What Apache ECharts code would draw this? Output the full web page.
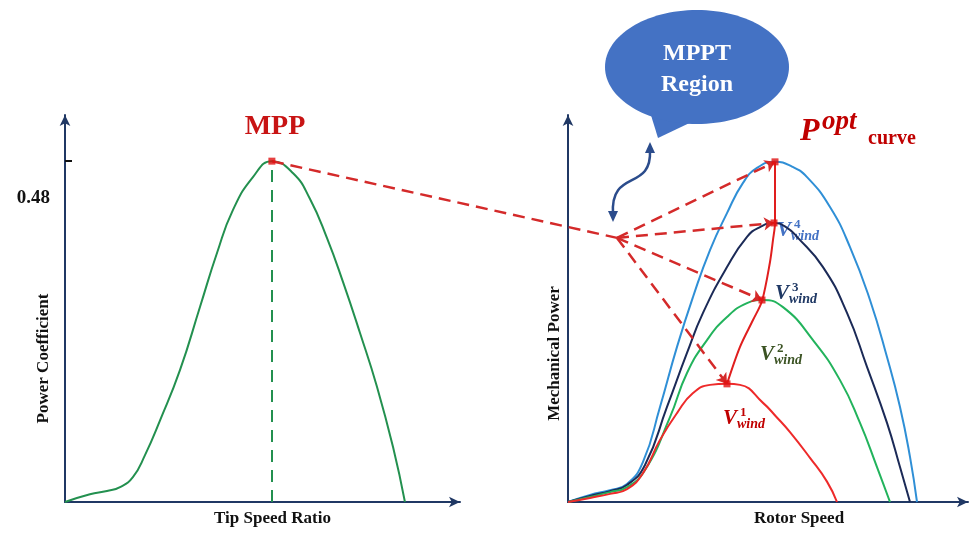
<!DOCTYPE html>
<html><head><meta charset="utf-8">
<script src="https://cdn.jsdelivr.net/npm/echarts@6/dist/echarts.min.js"></script>
<style>html,body{margin:0;padding:0;background:#fff}#c{width:971px;height:534px}</style>
</head><body><div id="c"></div>
<script>
// ---------- Left panel: Power coefficient vs tip speed ratio ----------
const tsr = [0,1.01,1.70,2.23,2.75,3.24,3.85,4.66,5.47,6.16,6.80,7.62,8.38,9.24,9.92,10.61,11.26,11.95,12.64,13.29,13.77];
const cp  = [0,0.011,0.0155,0.021,0.035,0.066,0.115,0.186,0.275,0.351,0.411,0.458,0.480,0.463,0.427,0.372,0.310,0.238,0.162,0.077,0];
const cpTicks = [0.48];

// ---------- Right panel: Mechanical power vs rotor speed ----------
const speedV4 = [0,11,21,29.5,37.5,46,54.5,62.5,71,79.5,87.5,94.5,103.5,112,119.5,131,141,151,159.5,166,171,174.5];
const powerV4 = [0,0.021,0.035,0.053,0.118,0.280,0.457,0.604,0.742,0.851,0.940,0.984,1.002,0.988,0.957,0.869,0.751,0.595,0.427,0.280,0.133,0];
const speedV3 = [0,11,21,29.5,38.5,49.5,59.5,67.5,79.5,89.5,96,103,109,114.5,127.5,139.5,149.5,159.5,166,171];
const powerV3 = [0,0.018,0.032,0.050,0.109,0.280,0.439,0.557,0.692,0.781,0.810,0.822,0.810,0.781,0.692,0.557,0.398,0.233,0.103,0];
const speedV2 = [0,11,21,29.5,38.5,51,59.5,69.5,79.5,89.5,97,107.5,122.5,136,146,154.5,161];
const powerV2 = [0,0.015,0.029,0.044,0.094,0.250,0.380,0.477,0.545,0.586,0.595,0.574,0.477,0.359,0.233,0.103,0];
const speedV1 = [0,11,21,29.5,37.5,46,54.5,62.5,71,79.5,86,97.5,104,111,121,129.5,134.5];
const powerV1 = [0,0.012,0.024,0.038,0.085,0.183,0.262,0.321,0.345,0.348,0.345,0.292,0.252,0.206,0.130,0.060,0];
// Optimal power curve through the peaks
const speedOpt = [79.5,86,92.5,97,101,102.5,103.5,103.5];
const powerOpt = [0.348,0.457,0.536,0.592,0.707,0.772,0.822,1.002];
// Point from which the MPPT arrows fan out
const fanOrigin = [24.5, 0.778];

const serif = 'Liberation Serif';
const axisCol = '#203864';
const redDash = '#D42A2A';

function pairs(xs, ys){ return xs.map((x,i)=>[x, ys[i]]); }
function peak(xs, ys){ let k=0; ys.forEach((y,i)=>{ if(y>ys[k]) k=i; }); return [xs[k], ys[k]]; }

const lamOpt = peak(tsr, cp);
const peaks = [peak(speedV4,powerV4), peak(speedV3,powerV3), peak(speedV2,powerV2), peak(speedV1,powerV1)];

const chart = echarts.init(document.getElementById('c'));

const axisLine = {show:true, symbol:['none','arrow'], symbolSize:[8,11], lineStyle:{color:axisCol, width:2}};
const nameStyle = {fontFamily:serif, fontWeight:'bold', fontSize:17, color:'#111'};

function curve(xs, ys, color){
  return {type:'line', xAxisIndex:1, yAxisIndex:1, data:pairs(xs,ys), smooth:0.5, showSymbol:false, lineStyle:{color, width:2}};
}

chart.setOption({
  backgroundColor:'#fff',
  animation:false,
  grid:[
    {left:65, top:115, width:395, height:387, outerBoundsMode:'none', containLabel:false},
    {left:568, top:115, width:400, height:387, outerBoundsMode:'none', containLabel:false}
  ],
  xAxis:[
    {type:'value', gridIndex:0, min:0, max:16, axisLine, axisTick:{show:false}, axisLabel:{show:false}, splitLine:{show:false},
     name:'Tip Speed Ratio', nameLocation:'middle', nameGap:8, nameMoveOverlap:false, nameTextStyle:Object.assign({verticalAlign:'top', padding:[0,0,0,20]}, nameStyle)},
    {type:'value', gridIndex:1, min:0, max:200, axisLine, axisTick:{show:false}, axisLabel:{show:false}, splitLine:{show:false},
     name:'Rotor Speed', nameLocation:'middle', nameGap:8, nameMoveOverlap:false, nameTextStyle:Object.assign({verticalAlign:'top', padding:[0,0,0,62]}, nameStyle)}
  ],
  yAxis:[
    {type:'value', gridIndex:0, min:0, max:0.545, axisLine,
     axisTick:{show:true, customValues:cpTicks, inside:true, length:7, lineStyle:{color:'#111', width:2}},
     axisLabel:{show:true, customValues:cpTicks, formatter:v=>v.toFixed(2), fontFamily:serif, fontWeight:'bold', fontSize:19, color:'#111', verticalAlign:'top', padding:[27,0,0,0], margin:15},
     splitLine:{show:false},
     name:'Power Coefficient', nameLocation:'middle', nameRotate:90, nameGap:13, nameMoveOverlap:false, nameTextStyle:Object.assign({padding:[0,100,0,0]}, nameStyle)},
    {type:'value', gridIndex:1, min:0, max:1.14, axisLine, axisTick:{show:false}, axisLabel:{show:false}, splitLine:{show:false},
     name:'Mechanical Power', nameLocation:'middle', nameRotate:90, nameGap:5, nameMoveOverlap:false, nameTextStyle:Object.assign({padding:[0,90,0,0]}, nameStyle)}
  ],
  series:[
    {type:'line', xAxisIndex:0, yAxisIndex:0, data:pairs(tsr,cp), smooth:0.5, showSymbol:false, lineStyle:{color:'#23904f', width:2},
     markLine:{silent:true, symbol:'none', label:{show:false}, lineStyle:{color:'#23904f', width:2, type:[12,8]},
       data:[[{coord:[lamOpt[0],0]},{coord:[lamOpt[0],lamOpt[1]]}]]}},
    curve(speedV4, powerV4, '#2f8fd6'),
    curve(speedV3, powerV3, '#1b2a57'),
    curve(speedV2, powerV2, '#22b35c'),
    curve(speedV1, powerV1, '#ee2a2a'),
    {type:'line', xAxisIndex:1, yAxisIndex:1, data:pairs(speedOpt,powerOpt), smooth:0.3, showSymbol:false, lineStyle:{color:'#e01e1e', width:2}, z:3},
    {type:'lines', coordinateSystem:'cartesian2d', xAxisIndex:1, yAxisIndex:1, symbol:['none','arrow'], symbolSize:10,
     lineStyle:{color:redDash, width:2.5, type:[12,7], opacity:1}, z:4,
     data:peaks.map(p=>({coords:[fanOrigin, p]}))},
    {type:'scatter', xAxisIndex:0, yAxisIndex:0, symbol:'rect', symbolSize:7, itemStyle:{color:'#e01010'}, data:[lamOpt], z:5},
    {type:'scatter', xAxisIndex:1, yAxisIndex:1, symbol:'rect', symbolSize:7, itemStyle:{color:'#e01010'}, data:peaks, z:5}
  ]
});

const pA = chart.convertToPixel({gridIndex:0}, lamOpt);
const pB = chart.convertToPixel({gridIndex:1}, fanOrigin);

function vLabel(x, y, num, color){
  return {type:'group', x, y, children:[
    {type:'text', x:0, y:0, style:{text:'V', font:'italic bold 21px '+serif, fill:color, verticalAlign:'top'}},
    {type:'text', x:17, y:-2, style:{text:num, font:'bold 13px '+serif, fill:color, verticalAlign:'top'}},
    {type:'text', x:14, y:9, style:{text:'wind', font:'italic bold 14px '+serif, fill:color, verticalAlign:'top'}}
  ]};
}

chart.setOption({
  graphic:[
    {type:'line', shape:{x1:pA[0], y1:pA[1], x2:pB[0], y2:pB[1]}, style:{stroke:redDash, lineWidth:2.5, lineDash:[12,7]}, z:4},
    {type:'text', x:275, y:127, style:{text:'MPP', font:'bold 28px '+serif, fill:'#c81414', align:'center', verticalAlign:'middle'}},
    // speech bubble
    {type:'polygon', shape:{points:[[650,112],[658,138],[700,118]]}, style:{fill:'#4472c4'}},
    {type:'ellipse', shape:{cx:697, cy:67, rx:92, ry:57}, style:{fill:'#4472c4'}},
    {type:'text', x:697, y:54, style:{text:'MPPT', font:'bold 24px '+serif, fill:'#fff', align:'center', verticalAlign:'middle'}},
    {type:'text', x:697, y:85, style:{text:'Region', font:'bold 24px '+serif, fill:'#fff', align:'center', verticalAlign:'middle'}},
    // wavy double arrow
    {type:'bezierCurve', shape:{x1:650, y1:150, cpx1:652, cpy1:192, cpx2:610, cpy2:168, x2:613, y2:214}, style:{stroke:'#2b4c8c', lineWidth:2.5, fill:null}},
    {type:'polygon', shape:{points:[[650,142],[645,153],[655,153]]}, style:{fill:'#2b4c8c'}},
    {type:'polygon', shape:{points:[[613,222],[608,211],[618,211]]}, style:{fill:'#2b4c8c'}},
    // P^opt curve label
    {type:'text', x:800, y:116, style:{text:'P', font:'italic bold 32px '+serif, fill:'#c00000', verticalAlign:'top'}},
    {type:'text', x:822, y:109, style:{text:'opt', font:'italic bold 27px '+serif, fill:'#c00000', verticalAlign:'top'}},
    {type:'text', x:868, y:129, style:{text:'curve', font:'bold 20px '+serif, fill:'#c00000', verticalAlign:'top'}},
    vLabel(777, 220, '4', '#4472c4'),
    vLabel(775, 283, '3', '#1f3864'),
    vLabel(760, 344, '2', '#3b5323'),
    vLabel(723, 408, '1', '#c00000')
  ]
});
</script>
</body></html>
